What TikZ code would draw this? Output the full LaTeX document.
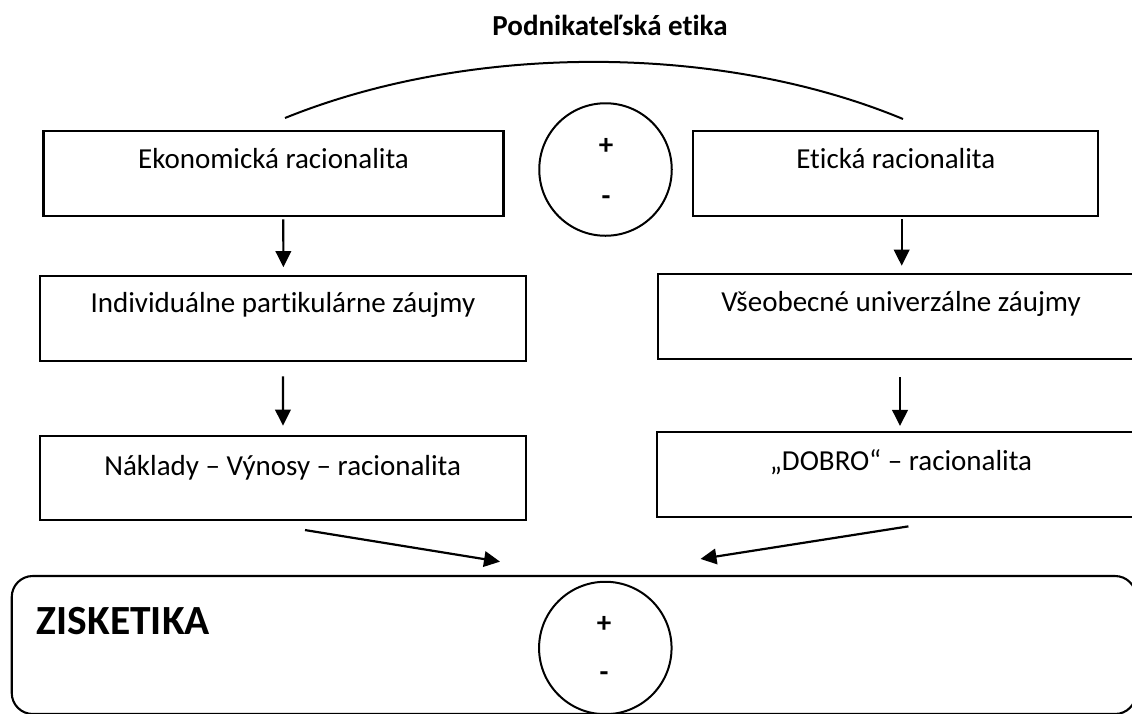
\documentclass[tikz,border=0pt]{standalone}
\usepackage{fontspec}
\setmainfont{Carlito}[Ligatures=NoCommon]
\usetikzlibrary{arrows.meta,calc}
\begin{document}
\begin{tikzpicture}[x=1pt,y=-1pt,
  box/.style={draw,line width=2.1pt,inner sep=0pt},
  txt/.style={font=\fontsize{29}{34}\selectfont,inner sep=0pt,anchor=base},
  ttl/.style={font=\fontsize{29}{34}\selectfont\bfseries,inner sep=0pt,anchor=base},
  pm/.style={font=\fontsize{29}{34}\selectfont\bfseries,inner sep=0pt},
  circ/.style={draw,circle,line width=2pt,minimum size=132.5pt,inner sep=0pt},
  arr/.style={-{Triangle[length=16pt,width=15.5pt]},line width=2.2pt}]
\useasboundingbox (0,0) rectangle (1132,713);
\clip (0,0) rectangle (1132,713);

% title and arc
\node[ttl] (title) at (610,35) {Podnikateľská etika};
\coordinate (arcL) at (285,118);
\coordinate (arcR) at (903,119);
\draw[line width=2pt] (arcL) .. controls (470,43) and (720,43) .. (arcR);

% row 1
\node[box,minimum width=460pt,minimum height=85pt] (b1) at (273.5,173.2) {};
\node[txt] (t1) at ($(b1.north)+(0,39.3)$) {Ekonomická racionalita};
\node[box,minimum width=405pt,minimum height=85pt] (b4) at (895.8,173.2) {};
\node[txt] (t4) at ($(b4.north)+(0,39.3)$) {Etická racionalita};
\node[circ] (c1) at (605.5,169.5) {};
\node[pm] (p1) at (606,146.7) {+};
\node[pm] (m1) at (606,200.7) {-};

% row 2
\node[box,minimum width=486.6pt,minimum height=85pt] (b2) at (282.9,318.4) {};
\node[txt] (t2) at ($(b2.north)+(0,38)$) {Individuálne partikulárne záujmy};
\node[box,minimum width=486pt,minimum height=84.5pt] (b5) at (901,316.3) {};
\node[txt] (t5) at ($(b5.north)+(0,38)$) {Všeobecné univerzálne záujmy};

% row 3
\node[box,minimum width=486.2pt,minimum height=84pt] (b3) at (282.7,478) {};
\node[txt] (t3) at ($(b3.north)+(0,40.7)$) {Náklady – Výnosy – racionalita};
\node[box,minimum width=488pt,minimum height=85pt] (b6) at (901,474.5) {};
\node[txt] (t6) at ($(b6.north)+(0,39.7)$) {„DOBRO“ – racionalita};

% bottom box
\node[box,rounded corners=21pt,minimum width=1124.3pt,minimum height=138pt] (z) at (573.9,645) {};
\node[anchor=base west,font=\fontsize{41.5}{48}\selectfont\bfseries,inner sep=0pt] (zt) at (36.7,634) {ZISKETIKA};
\node[circ] (c2) at (605.3,648) {};
\node[pm] (p2) at (604,624) {+};
\node[pm] (m2) at (604,676.7) {-};

% arrows
\draw[arr] ($(b1.south)+(9.8,2.6)$) -- ($(b2.north)+(0.5,-7.7)$);
\draw[arr] ($(b4.south)+(5.9,2.6)$) -- ($(b5.north)+(0.7,-7.3)$);
\draw[arr] ($(b2.south)+(0,14.3)$) -- ($(b3.north)+(0.3,-9.3)$);
\draw[arr] ($(b5.south)+(-1,17.5)$) -- ($(b6.north)+(-1,-5)$);
\draw[arr] ($(b3.south)+(22.3,9)$) -- ($(z.north)+(-73.9,-13.3)$);
\draw[arr] ($(b6.south)+(7.4,8.3)$) -- ($(z.north)+(126.6,-16)$);
\end{tikzpicture}
\end{document}
